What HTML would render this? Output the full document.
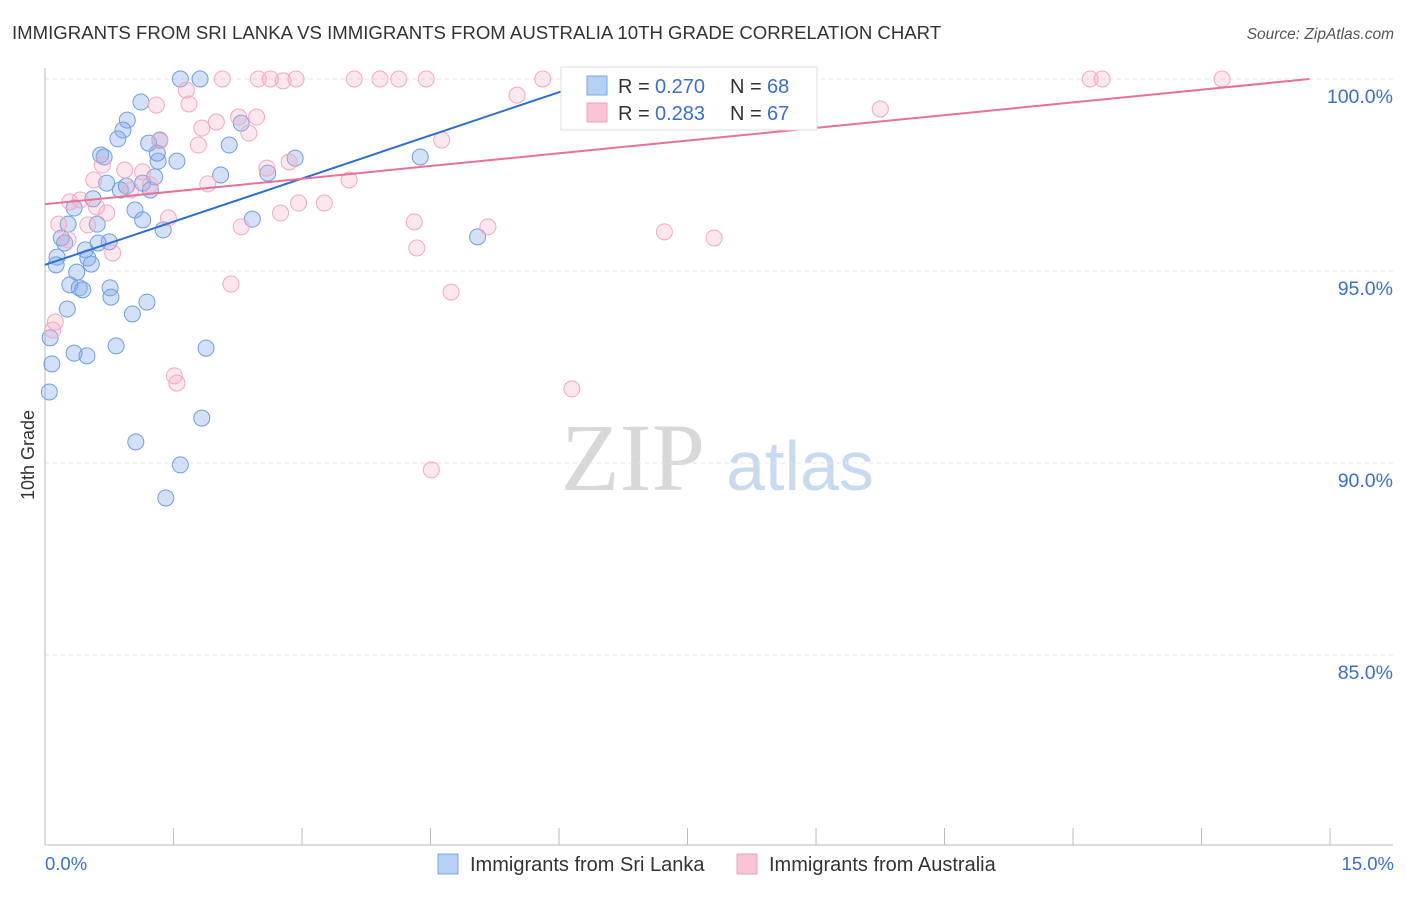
<!DOCTYPE html>
<html><head><meta charset="utf-8"><style>
body{margin:0;background:#fff;font-family:"Liberation Sans",sans-serif}
</style></head><body>
<svg id="c" width="1406" height="892" xmlns="http://www.w3.org/2000/svg" style="font-family:'Liberation Sans',sans-serif">
<text x="12" y="39" font-size="18.6" fill="#333">IMMIGRANTS FROM SRI LANKA VS IMMIGRANTS FROM AUSTRALIA 10TH GRADE CORRELATION CHART</text>
<text x="1394" y="39" font-size="15.5" fill="#555" font-style="italic" text-anchor="end">Source: ZipAtlas.com</text>
<text x="633" y="490" font-size="96" fill="#d8d8d8" font-family="Liberation Serif,serif" text-anchor="middle">ZIP</text>
<text x="800" y="490" font-size="70" fill="#c8daf2" text-anchor="middle">atlas</text>
<g id="grid"></g><g id="axes"></g><g id="pts"></g><g id="lines"></g>
<text transform="translate(34,455) rotate(-90)" font-size="18" fill="#333" text-anchor="middle">10th Grade</text>
<g>
<rect x="561" y="67" width="256" height="63" fill="#fff" stroke="#ddd"/>
<rect x="587" y="76" width="20" height="19" fill="#b6cff4" stroke="#7aa6e6"/>
<rect x="587" y="103" width="20" height="19" fill="#f9c4d4" stroke="#f0a0bb"/>
<text x="618" y="93" font-size="20" fill="#333">R =</text>
<text x="655" y="93" font-size="20" fill="#3a6fd0">0.270</text>
<text x="730" y="93" font-size="20" fill="#333">N =</text>
<text x="767" y="93" font-size="20" fill="#3a6fd0">68</text>
<text x="618" y="120" font-size="20" fill="#333">R =</text>
<text x="655" y="120" font-size="20" fill="#3a6fd0">0.283</text>
<text x="730" y="120" font-size="20" fill="#333">N =</text>
<text x="767" y="120" font-size="20" fill="#3a6fd0">67</text>
</g>
<g>
<rect x="438" y="854" width="20" height="20" fill="#b6cff4" stroke="#7aa6e6"/>
<text x="470" y="871" font-size="20" fill="#333">Immigrants from Sri Lanka</text>
<rect x="737" y="854" width="20" height="20" fill="#f9c4d4" stroke="#f0a0bb"/>
<text x="769" y="871" font-size="20" fill="#333">Immigrants from Australia</text>
</g>
<text x="45" y="870" font-size="18.5" fill="#3a6fd0">0.0%</text>
<text x="1394" y="870" font-size="18.5" fill="#3a6fd0" text-anchor="end">15.0%</text>
</svg>
<script>
const blueX=[1.58,1.81,1.12,0.96,0.91,0.85,1.21,1.34,0.65,0.69,1.32,1.54,2.15,2.29,2.92,4.38,1.31,2.05,1.28,0.72,0.88,0.95,1.14,1.23,0.56,0.34,1.05,1.14,1.38,2.42,2.60,0.27,0.61,0.19,0.23,0.75,0.62,0.47,0.14,0.50,0.13,0.54,0.37,0.29,0.40,0.44,0.76,0.77,0.26,1.02,1.19,0.06,0.34,0.49,0.83,1.88,0.08,0.05,1.06,1.83,1.58,1.41,5.05];
const blueY=[100,100,99.40,98.93,98.67,98.44,98.33,98.41,98.02,97.97,97.86,97.86,98.28,98.85,97.94,97.97,98.07,97.50,97.45,97.29,97.11,97.21,97.29,97.11,96.88,96.64,96.59,96.33,96.07,96.35,97.55,96.22,96.22,95.86,95.73,95.76,95.73,95.55,95.36,95.34,95.16,95.18,94.97,94.64,94.56,94.51,94.56,94.32,94.01,93.88,94.19,93.26,92.86,92.79,93.05,92.99,92.58,91.85,90.55,91.17,89.95,89.09,95.89];
const pinkX=[1.65,1.30,1.68,2.07,2.49,2.63,2.78,2.93,3.61,3.91,4.13,4.45,5.81,6.23,6.85,5.51,12.20,12.34,13.74,9.75,2.26,2.47,2.00,1.83,2.38,1.79,1.34,4.63,2.85,2.59,0.93,0.67,0.57,1.14,1.00,1.23,1.90,3.55,0.41,0.29,0.72,1.44,2.96,3.26,2.75,2.29,4.31,5.17,7.23,7.81,0.16,0.50,0.27,0.79,4.34,4.74,2.17,0.12,0.09,1.51,1.54,6.15,4.51,0.60];
const pinkY=[99.71,99.32,99.35,100,100,100,99.95,100,100,100,100,100,100,100,99.45,99.58,100,100,100,99.22,99.01,99.01,98.88,98.72,98.59,98.28,98.39,98.41,97.84,97.68,97.63,97.76,97.37,97.58,97.11,97.24,97.27,97.37,96.85,96.80,96.51,96.38,96.77,96.77,96.51,96.15,96.28,96.15,96.02,95.86,96.22,96.20,95.81,95.47,95.60,94.45,94.66,93.67,93.46,92.27,92.08,91.93,89.82,96.67];
const yTicks=[100,95,90,85];
const yTickLabels=["100.0%","95.0%","90.0%","85.0%"];
const xTicks=[0,1.5,3,4.5,6,7.5,9,10.5,12,13.5,15];
const blueTrend=[[0,95.16],[6.245,99.84]];
const pinkTrend=[[0,96.74],[14.76,100]];
const NS='http://www.w3.org/2000/svg';
const sx=v=>45+v*85.67, sy=v=>79+(100-v)*38.4;
function mk(t,a,p){const e=document.createElementNS(NS,t);for(const k in a)e.setAttribute(k,a[k]);p.appendChild(e);return e;}
const grid=document.getElementById('grid'),axes=document.getElementById('axes'),pts=document.getElementById('pts'),lines=document.getElementById('lines');
yTicks.forEach((t,i)=>{
 const l=mk('line',{x1:45,x2:1393,y1:sy(t),y2:sy(t),stroke:'#e4e4e4','stroke-dasharray':'4,4'},grid);
 
 
 const tx=mk('text',{x:1393,y:sy(t)+24,'font-size':19.5,fill:'#3a6fd0','text-anchor':'end'},grid);
 tx.textContent=yTickLabels[i];
 
 
});
const ax=mk('line',{x1:45,x2:1393,y1:845,y2:845,stroke:'#bbb'},axes);


const ay=mk('line',{x1:45,x2:45,y1:68,y2:845,stroke:'#bbb'},axes);


xTicks.forEach(t=>{
 const l=mk('line',{x1:sx(t),x2:sx(t),y1:828,y2:845,stroke:'#bbb'},axes);
 
 
});
blueX.forEach((x,i)=>{
 const c=mk('circle',{cx:sx(x),cy:sy(blueY[i]),r:8,fill:'rgba(130,170,235,0.35)',stroke:'#6f9de0','stroke-width':1},pts);
 
 
});
pinkX.forEach((x,i)=>{
 const c=mk('circle',{cx:sx(x),cy:sy(pinkY[i]),r:8,fill:'rgba(245,170,195,0.28)',stroke:'#f2a8c0','stroke-width':1},pts);
 
 
});
const bl=mk('line',{x1:sx(blueTrend[0][0]),y1:sy(blueTrend[0][1]),x2:sx(blueTrend[1][0]),y2:sy(blueTrend[1][1]),stroke:'#2d6fd6','stroke-width':2},lines);


const pl=mk('line',{x1:sx(pinkTrend[0][0]),y1:sy(pinkTrend[0][1]),x2:sx(pinkTrend[1][0]),y2:sy(pinkTrend[1][1]),stroke:'#e8709a','stroke-width':2},lines);


</script>
</body></html>
